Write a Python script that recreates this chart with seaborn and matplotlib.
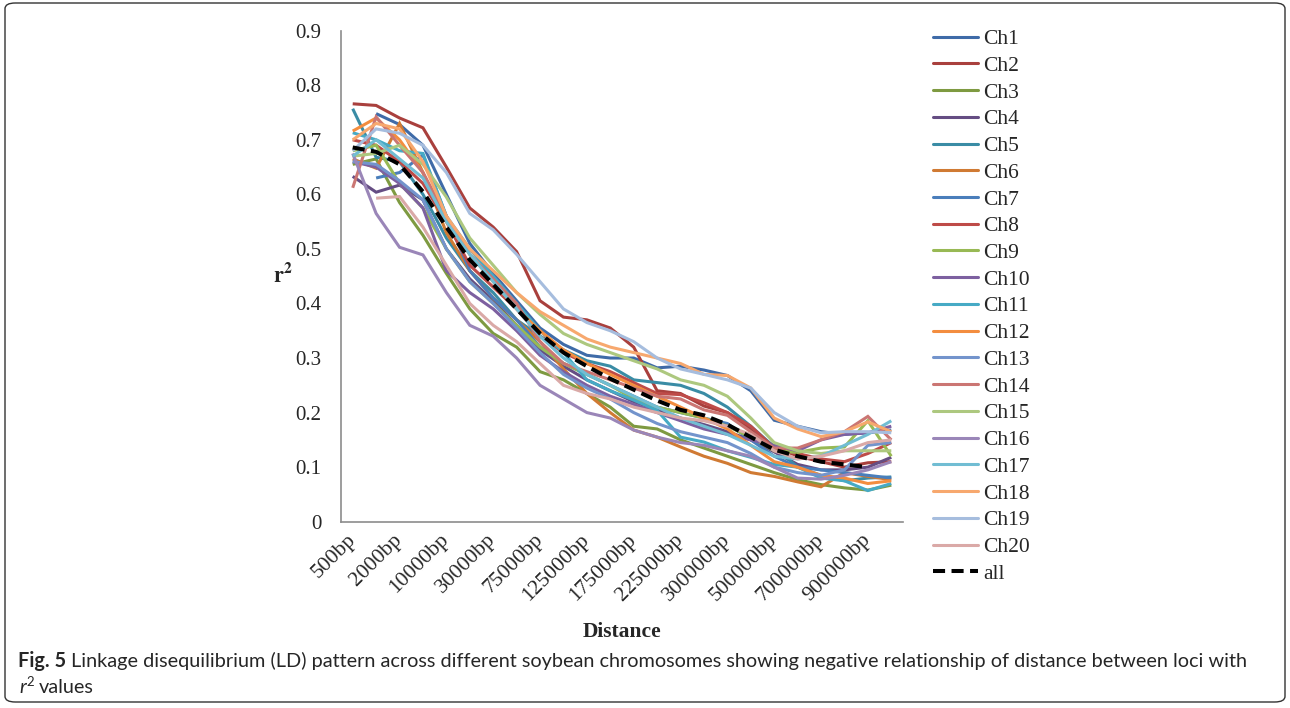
import numpy as np
import pandas as pd
import matplotlib
matplotlib.use("Agg")
import matplotlib.pyplot as plt
import seaborn as sns
from matplotlib.lines import Line2D
from matplotlib.patches import FancyBboxPatch

nan = float("nan")

# Distance classes between marker pairs (only every other one is labelled on the axis)
distances = ["500bp", "1000bp", "2000bp", "5000bp", "10000bp", "20000bp", "30000bp",
             "50000bp", "75000bp", "100000bp", "125000bp", "150000bp", "175000bp",
             "200000bp", "225000bp", "250000bp", "300000bp", "400000bp", "500000bp",
             "600000bp", "700000bp", "800000bp", "900000bp", "1000000bp"]

# Mean r^2 per distance class for each chromosome
ch1 = [nan, 0.748, 0.728, 0.690, 0.600, 0.510, 0.455, 0.405, 0.355, 0.325, 0.305, 0.300,
       0.300, 0.282, 0.285, 0.278, 0.268, 0.240, 0.186, 0.175, 0.165, 0.160, 0.163, 0.168]
ch2 = [0.766, 0.763, 0.740, 0.722, 0.650, 0.575, 0.540, 0.495, 0.405, 0.375, 0.370, 0.355,
       0.320, 0.240, 0.235, 0.212, 0.200, 0.170, 0.138, 0.120, 0.110, 0.100, 0.108, 0.110]
ch3 = [0.655, 0.665, 0.585, 0.525, 0.455, 0.390, 0.345, 0.320, 0.275, 0.260, 0.235, 0.210,
       0.175, 0.170, 0.150, 0.135, 0.120, 0.105, 0.090, 0.077, 0.068, 0.062, 0.058, 0.067]
ch4 = [0.633, 0.604, 0.617, 0.590, 0.500, 0.445, 0.405, 0.360, 0.315, 0.285, 0.260, 0.240,
       0.220, 0.205, 0.190, 0.178, 0.165, 0.150, 0.128, 0.105, 0.095, 0.095, 0.100, 0.118]
ch5 = [0.757, 0.668, 0.660, 0.600, 0.520, 0.460, 0.420, 0.370, 0.340, 0.315, 0.295, 0.285,
       0.260, 0.255, 0.250, 0.235, 0.210, 0.175, 0.137, 0.100, 0.085, 0.075, 0.080, 0.082]
ch6 = [0.665, 0.648, 0.730, 0.640, 0.530, 0.460, 0.410, 0.370, 0.330, 0.280, 0.235, 0.200,
       0.168, 0.155, 0.137, 0.120, 0.107, 0.090, 0.083, 0.073, 0.064, 0.090, 0.083, 0.077]
ch7 = [nan, 0.630, 0.640, 0.672, 0.560, 0.460, 0.410, 0.370, 0.320, 0.290, 0.270, 0.250,
       0.230, 0.210, 0.200, 0.190, 0.180, 0.150, 0.120, 0.100, 0.095, 0.090, 0.085, 0.080]
ch8 = [0.700, 0.690, 0.660, 0.620, 0.550, 0.470, 0.430, 0.390, 0.340, 0.310, 0.290, 0.275,
       0.255, 0.235, 0.233, 0.218, 0.200, 0.175, 0.135, 0.125, 0.115, 0.110, 0.125, 0.145]
ch9 = [0.680, 0.690, 0.620, 0.575, 0.500, 0.440, 0.400, 0.360, 0.320, 0.290, 0.270, 0.250,
       0.225, 0.210, 0.200, 0.190, 0.175, 0.155, 0.130, 0.127, 0.135, 0.137, 0.185, 0.120]
ch10 = [0.660, 0.650, 0.620, 0.575, 0.460, 0.420, 0.390, 0.350, 0.305, 0.275, 0.250, 0.230,
        0.215, 0.200, 0.185, 0.170, 0.160, 0.150, 0.140, 0.130, 0.150, 0.160, 0.163, 0.175]
ch11 = [0.713, 0.700, 0.680, 0.675, 0.560, 0.500, 0.450, 0.400, 0.350, 0.310, 0.260, 0.240,
        0.223, 0.204, 0.155, 0.146, 0.130, 0.118, 0.105, 0.100, 0.080, 0.075, 0.057, 0.070]
ch12 = [0.716, 0.740, 0.700, 0.640, 0.550, 0.490, 0.440, 0.390, 0.350, 0.315, 0.290, 0.270,
        0.250, 0.230, 0.210, 0.190, 0.170, 0.140, 0.110, 0.100, 0.085, 0.080, 0.070, 0.075]
ch13 = [0.660, 0.655, 0.625, 0.590, 0.500, 0.440, 0.400, 0.355, 0.310, 0.270, 0.245, 0.225,
        0.200, 0.180, 0.165, 0.155, 0.145, 0.125, 0.100, 0.090, 0.085, 0.095, 0.140, 0.145]
ch14 = [0.612, 0.742, 0.690, 0.640, 0.560, 0.490, 0.445, 0.400, 0.330, 0.290, 0.275, 0.260,
        0.245, 0.230, 0.225, 0.205, 0.195, 0.165, 0.135, 0.135, 0.150, 0.165, 0.193, 0.150]
ch15 = [0.670, 0.675, 0.690, 0.655, 0.595, 0.520, 0.470, 0.420, 0.380, 0.345, 0.325, 0.310,
        0.295, 0.280, 0.260, 0.250, 0.230, 0.190, 0.145, 0.130, 0.125, 0.130, 0.130, 0.130]
ch16 = [0.675, 0.565, 0.503, 0.489, 0.420, 0.360, 0.340, 0.300, 0.250, 0.225, 0.200, 0.190,
        0.168, 0.155, 0.145, 0.140, 0.130, 0.120, 0.100, 0.080, 0.078, 0.085, 0.095, 0.110]
ch17 = [0.670, 0.700, 0.665, 0.630, 0.550, 0.490, 0.440, 0.390, 0.340, 0.300, 0.270, 0.250,
        0.230, 0.210, 0.190, 0.175, 0.160, 0.140, 0.120, 0.115, 0.120, 0.140, 0.160, 0.185]
ch18 = [0.700, 0.730, 0.720, 0.660, 0.560, 0.500, 0.460, 0.420, 0.385, 0.360, 0.335, 0.320,
        0.310, 0.300, 0.290, 0.270, 0.268, 0.245, 0.190, 0.170, 0.156, 0.165, 0.183, 0.165]
ch19 = [0.680, 0.720, 0.712, 0.690, 0.640, 0.565, 0.535, 0.490, 0.440, 0.390, 0.365, 0.350,
        0.330, 0.300, 0.280, 0.270, 0.260, 0.245, 0.200, 0.175, 0.163, 0.165, 0.165, 0.163]
ch20 = [nan, 0.593, 0.596, 0.540, 0.470, 0.400, 0.360, 0.330, 0.290, 0.250, 0.235, 0.225,
        0.210, 0.200, 0.190, 0.185, 0.175, 0.160, 0.130, 0.115, 0.120, 0.130, 0.145, 0.150]
all_chr = [0.686, 0.678, 0.655, 0.605, 0.540, 0.480, 0.435, 0.390, 0.345, 0.310, 0.285, 0.262,
           0.242, 0.222, 0.205, 0.195, 0.178, 0.155, 0.132, 0.120, 0.110, 0.105, 0.100, nan]

chromosomes = [f"Ch{i}" for i in range(1, 21)]
chrom_values = [ch1, ch2, ch3, ch4, ch5, ch6, ch7, ch8, ch9, ch10,
                ch11, ch12, ch13, ch14, ch15, ch16, ch17, ch18, ch19, ch20]
chrom_colors = ["#3F6BA8", "#A9403D", "#7E9A41", "#654D83", "#3A8CA5", "#D07A33",
                "#4A7EBB", "#BE4B48", "#98B954", "#7D60A0", "#46AAC5", "#F38D3F",
                "#7394CC", "#CB7673", "#ADC87F", "#9A86B8", "#71BDD3", "#F7A86E",
                "#A6BDDE", "#DAA9A7"]

# Long-form table: one row per chromosome and distance class
rows = []
for name, vals in zip(chromosomes, chrom_values):
    for pos, v in enumerate(vals):
        if not np.isnan(v):
            rows.append((name, pos, v))
df = pd.DataFrame(rows, columns=["series", "pos", "r2"])
df_all = pd.DataFrame({"pos": np.arange(len(distances)), "r2": all_chr}).dropna()

sns.set_style("white")
plt.rcParams["font.family"] = ["Liberation Serif", "DejaVu Serif"]
plt.rcParams["mathtext.fontset"] = "stix"

W, H = 1290, 708
fig = plt.figure(figsize=(W / 100, H / 100), dpi=100)

# Rounded frame around the figure panel
frame = FancyBboxPatch((5 / W, 6 / H), (W - 10) / W, (H - 9) / H,
                       boxstyle="round,pad=0,rounding_size=0.008",
                       transform=fig.transFigure, fill=False,
                       edgecolor="#333333", linewidth=1.0)
fig.patches.append(frame)

ax = fig.add_axes([341 / W, 1 - 521.7 / H, (903 - 341) / W, (521.7 - 30.7) / H])

palette = dict(zip(chromosomes, chrom_colors))
sns.lineplot(data=df, x="pos", y="r2", hue="series", hue_order=chromosomes,
             palette=palette, estimator=None, linewidth=2.2, legend=False, ax=ax)
sns.lineplot(data=df_all, x="pos", y="r2", color="black", estimator=None,
             linewidth=2.9, dashes=(3.0, 1.6), legend=False, ax=ax)
for line in ax.get_lines():
    line.set_solid_capstyle("butt")
    line.set_solid_joinstyle("miter")

# Axes styling
axis_grey = "#8C8C8C"
ax.set_xlim(-0.5, len(distances) - 0.5)
ax.set_ylim(0, 0.9)
yt = np.round(np.arange(0, 0.91, 0.1), 1)
ax.set_yticks(yt)
ax.set_yticklabels(["0"] + [f"{v:.1f}" for v in yt[1:]], fontsize=15)
ax.set_xticks(np.arange(-0.5, len(distances), 1.0))
ax.set_xticklabels([])
ax.set_xticks(np.arange(len(distances)), minor=True)
ax.set_xticklabels([d if i % 2 == 0 else "" for i, d in enumerate(distances)],
                   minor=True, fontsize=15.5, rotation=45, ha="right", va="center",
                   rotation_mode="anchor")
ax.tick_params(axis="x", which="minor", length=0, pad=11)
ax.tick_params(axis="x", which="major", length=6, width=1, color=axis_grey, direction="out")
ax.tick_params(axis="y", which="major", length=6, width=1, color=axis_grey,
               direction="out", pad=8)
for side in ["top", "right"]:
    ax.spines[side].set_visible(False)
for side in ["left", "bottom"]:
    ax.spines[side].set_color(axis_grey)
    ax.spines[side].set_linewidth(1.2)
ax.grid(False)

ax.set_xlabel("Distance", fontsize=15.5, fontweight="bold", labelpad=12)
ax.set_ylabel("")
fig.text(283 / W, 1 - 275 / H, r"$\mathbf{r^2}$", fontsize=16, ha="center", va="center")

# Legend
handles = [Line2D([], [], color=c, linewidth=2.2) for c in chrom_colors]
handles.append(Line2D([], [], color="black", linewidth=2.9, dashes=(3.0, 1.6)))
fig.legend(handles, chromosomes + ["all"], loc="upper left",
           bbox_to_anchor=(933 / W, 1 - 29 / H), frameon=False, fontsize=15.5,
           handlelength=2.1, handletextpad=0.25, labelspacing=0.31,
           borderpad=0, borderaxespad=0)

# Caption
cap_font = ["Lato", "DejaVu Sans"]
cap_size = 14.3
cap_y1 = 1 - 667 / H
t1 = fig.text(18 / W, cap_y1, "Fig. 5", fontsize=cap_size, fontweight="bold",
              family=cap_font, va="baseline", ha="left")
fig.canvas.draw()
bb = t1.get_window_extent()
fig.text((bb.x1 + 5) / W, cap_y1,
         "Linkage disequilibrium (LD) pattern across different soybean chromosomes "
         "showing negative relationship of distance between loci with",
         fontsize=cap_size, family=cap_font, va="baseline", ha="left")
cap_y2 = 1 - 693 / H
t2 = fig.text(19 / W, cap_y2, "r", fontsize=cap_size, style="italic", family=cap_font,
              va="baseline", ha="left")
fig.canvas.draw()
bb2 = t2.get_window_extent()
t3 = fig.text((bb2.x1 + 0.5) / W, cap_y2 + 7 / H, "2", fontsize=9.5, family=cap_font,
              va="baseline", ha="left")
fig.canvas.draw()
bb3 = t3.get_window_extent()
fig.text((bb3.x1 + 5) / W, cap_y2, "values", fontsize=cap_size, family=cap_font,
         va="baseline", ha="left")

fig.savefig("out.png", dpi=100)
